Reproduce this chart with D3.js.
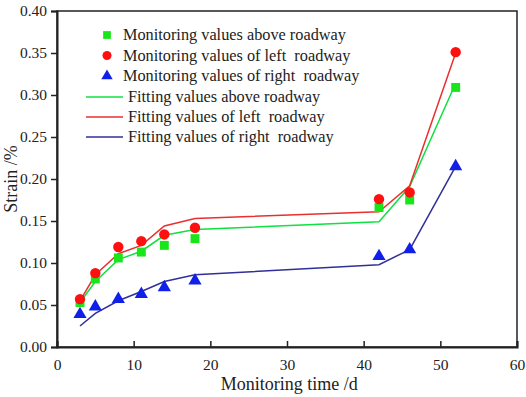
<!DOCTYPE html>
<html>
<head>
<meta charset="utf-8">
<script src="https://cdn.jsdelivr.net/npm/d3@7"></script>
<style>
  body { margin: 0; background: #fff; }
  svg text { font-family: "Liberation Serif", "Times New Roman", serif; fill: #222; white-space: pre; }
</style>
</head>
<body>
<script>
// data
var days = [3, 5, 8, 11, 14, 18, 42, 46, 52];
var aboveMon = [0.053, 0.081, 0.106, 0.113, 0.121, 0.129, 0.166, 0.175, 0.309];
var leftMon = [0.057, 0.088, 0.119, 0.126, 0.134, 0.142, 0.176, 0.184, 0.351];
var rightMon = [0.039, 0.048, 0.057, 0.063, 0.071, 0.079, 0.108, 0.116, 0.215];
var aboveFit = [0.053, 0.078, 0.104, 0.114, 0.133, 0.140, 0.149, 0.191, 0.314];
var leftFit = [0.055, 0.086, 0.111, 0.121, 0.144, 0.153, 0.161, 0.192, 0.350];
var rightFit = [0.025, 0.040, 0.055, 0.066, 0.078, 0.086, 0.098, 0.116, 0.215];
var xTicks = [0, 10, 20, 30, 40, 50, 60];
var yTicks = [0, 0.05, 0.10, 0.15, 0.20, 0.25, 0.30, 0.35, 0.40];

var legendMon = ["Monitoring values above roadway", "Monitoring values of left  roadway", "Monitoring values of right  roadway"];
var legendFit = ["Fitting values above roadway", "Fitting values of left  roadway", "Fitting values of right  roadway"];

var W = 526, H = 397;
var margin = {left: 57, right: 9, top: 11, bottom: 50};
var w = W - margin.left - margin.right;
var h = H - margin.top - margin.bottom;

var monColors = ["#19e619", "#ff1010", "#1020e8"];
var fitColors = ["#10e040", "#e83030", "#303098"];
var shapes = [d3.symbolSquare, d3.symbolCircle, d3.symbolTriangle];
var sizes = [80, 85, 75];

var svg = d3.select("body").append("svg")
    .attr("width", W)
    .attr("height", H);

var g = svg.append("g")
    .attr("transform", "translate(" + margin.left + " " + margin.top + ")");

var x = d3.scaleLinear().domain([0, 60]).range([0, w]);
var y = d3.scaleLinear().domain([0, 0.4]).range([h, 0]);

// frame
g.append("rect")
    .attr("width", w).attr("height", h)
    .attr("fill", "none").attr("stroke", "#222").attr("stroke-width", 1.5);

var xAxis = g.append("g")
    .attr("transform", "translate(0 " + h + ")")
    .call(d3.axisBottom(x).tickValues(xTicks).tickSize(-6).tickPadding(12).tickFormat(d3.format("d")));
var yAxis = g.append("g")
    .call(d3.axisLeft(y).tickValues(yTicks).tickSize(6).tickPadding(4).tickFormat(d3.format(".2f")));

[xAxis, yAxis].forEach(function (a) {
    a.select(".domain").attr("stroke", "#222").attr("stroke-width", 2);
    a.selectAll(".tick line").attr("stroke", "#222").attr("stroke-width", 1.5);
    a.selectAll(".tick text").style("font-size", "15.5px").attr("fill", "#222");
});

// fitted lines
var line = d3.line()
    .x(function (d, i) { return x(days[i]); })
    .y(function (d) { return y(d); });

[aboveFit, leftFit, rightFit].forEach(function (s, k) {
    g.append("path")
        .attr("d", line(s))
        .attr("fill", "none")
        .attr("stroke", fitColors[k])
        .attr("stroke-width", 1.5);
});

// monitoring markers
[aboveMon, leftMon, rightMon].forEach(function (s, k) {
    g.selectAll(".m" + k).data(s).enter()
        .append("path")
        .attr("class", "m" + k)
        .attr("d", d3.symbol().type(shapes[k]).size(sizes[k]))
        .attr("transform", function (d, i) { return "translate(" + x(days[i]) + " " + y(d) + ")"; })
        .attr("fill", monColors[k]);
});

// legend
var legend = svg.append("g").attr("class", "legend");
for (var i = 0; i < 3; i++) {
    legend.append("path")
        .attr("d", d3.symbol().type(shapes[i]).size(sizes[i] * 0.75))
        .attr("transform", "translate(107 " + (35 + i * 20.5) + ")")
        .attr("fill", monColors[i]);
    legend.append("text")
        .attr("x", 123).attr("y", 35 + i * 20.5 + 5)
        .style("font-size", "16.3px")
        .text(legendMon[i]);
}
for (var j = 0; j < 3; j++) {
    var yy = 97 + j * 20;
    legend.append("line")
        .attr("x1", 86).attr("x2", 123)
        .attr("y1", yy).attr("y2", yy)
        .attr("stroke", fitColors[j]).attr("stroke-width", 1.5);
    legend.append("text")
        .attr("x", 128).attr("y", yy + 5)
        .style("font-size", "16.3px")
        .text(legendFit[j]);
}

// axis titles
svg.append("text")
    .attr("x", margin.left + x(30.3)).attr("y", 390)
    .attr("text-anchor", "middle")
    .style("font-size", "18px")
    .text("Monitoring time /d");
svg.append("text")
    .attr("transform", "translate(17 " + (margin.top + h / 2) + ") rotate(-90)")
    .attr("text-anchor", "middle")
    .style("font-size", "18px")
    .text("Strain /%");
</script>
</body>
</html>
